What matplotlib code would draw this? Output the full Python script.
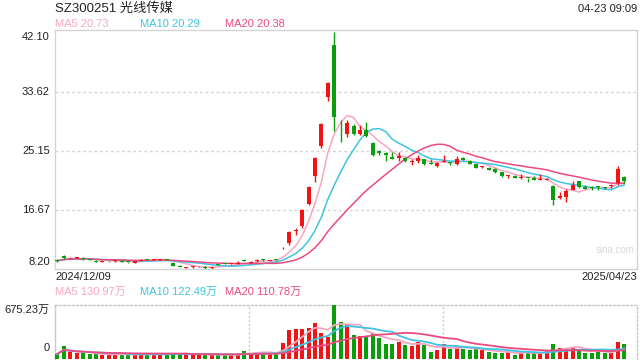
import numpy as np
import pandas as pd
import matplotlib
matplotlib.use("Agg")
import matplotlib.pyplot as plt
import matplotlib.transforms as mtransforms

plt.rcParams['font.family'] = ['Liberation Sans', 'Noto Sans CJK SC', 'DejaVu Sans']

title = "SZ300251 光线传媒"
stamp = "04-23 09:09"
first_date = "2024/12/09"
last_date = "2025/04/23"

opens = [9.42, 10.02, 9.72, 9.74, 9.72, 9.55, 9.40, 9.25, 9.28, 9.30,
         9.38, 9.20, 9.08, 9.40, 9.60, 9.55, 9.56, 9.58, 9.10, 8.58,
         8.35, 8.44, 8.56, 8.55, 8.32, 8.85, 8.98, 8.88, 8.94, 9.55,
         9.08, 9.34, 9.52, 9.40, 9.50, 11.30, 11.90, 13.68, 14.30, 17.55,
         21.45, 25.75, 32.80, 40.30, 28.30, 27.55, 28.70, 27.50, 28.10, 26.30,
         25.10, 24.75, 24.30, 24.05, 24.15, 23.55, 23.60, 23.95, 23.42, 22.95,
         23.58, 23.45, 23.25, 24.15, 23.68, 23.30, 22.80, 22.72, 22.50, 22.10,
         21.48, 21.55, 21.25, 21.28, 21.27, 20.95, 21.00, 20.10, 18.35, 18.55,
         19.50, 20.80, 19.90, 19.90, 19.95, 19.85, 20.05, 20.50, 21.35]
highs = [9.65, 10.22, 9.95, 9.85, 9.96, 9.62, 9.45, 9.38, 9.40, 9.42,
         9.42, 9.25, 9.32, 9.62, 9.68, 9.66, 9.70, 9.62, 9.20, 8.72,
         8.45, 8.56, 8.70, 8.60, 8.45, 8.90, 9.02, 8.98, 9.30, 9.62,
         9.28, 9.62, 9.58, 9.50, 9.56, 11.35, 13.60, 14.03, 16.75, 20.10,
         24.25, 29.10, 35.05, 42.10, 29.54, 29.54, 28.90, 28.80, 29.30, 26.40,
         25.25, 25.00, 24.95, 24.90, 24.20, 23.90, 24.50, 24.00, 23.95, 23.55,
         24.50, 23.50, 24.35, 24.30, 23.75, 23.35, 22.95, 22.80, 22.60, 22.15,
         21.65, 21.60, 21.75, 21.30, 21.50, 21.85, 21.30, 20.25, 19.20, 19.65,
         20.85, 20.85, 20.20, 20.10, 20.15, 19.90, 20.40, 22.95, 21.55]
lows = [9.22, 9.62, 9.62, 9.66, 9.49, 9.44, 9.22, 9.20, 9.22, 9.26,
        9.14, 9.10, 9.04, 9.36, 9.50, 9.50, 9.52, 9.42, 8.65, 8.45,
        8.28, 8.40, 8.48, 8.26, 8.20, 8.72, 8.85, 8.84, 8.90, 9.28,
        9.04, 9.18, 9.40, 9.36, 9.40, 11.05, 11.65, 13.07, 14.10, 17.35,
        20.70, 25.50, 32.25, 27.96, 26.43, 27.15, 27.35, 27.40, 27.15, 24.40,
        24.55, 23.60, 23.90, 23.70, 23.50, 23.05, 23.45, 23.15, 23.20, 22.75,
        23.50, 23.10, 23.10, 23.75, 23.20, 22.60, 22.70, 22.35, 21.95, 21.35,
        21.30, 21.20, 21.10, 20.60, 20.90, 20.90, 20.92, 17.40, 18.20, 17.85,
        19.45, 19.85, 19.60, 19.50, 19.50, 19.60, 19.85, 20.25, 20.55]
closes = [9.38, 9.72, 9.78, 9.78, 9.66, 9.49, 9.25, 9.32, 9.34, 9.36,
          9.18, 9.16, 9.28, 9.48, 9.56, 9.60, 9.62, 9.48, 8.68, 8.52,
          8.40, 8.50, 8.60, 8.30, 8.38, 8.80, 8.88, 8.94, 9.02, 9.32,
          9.24, 9.48, 9.45, 9.44, 9.46, 11.35, 13.45, 13.76, 16.60, 19.95,
          24.05, 28.90, 34.85, 29.90, 28.20, 29.05, 27.55, 28.05, 27.30, 24.55,
          24.78, 24.50, 23.95, 24.38, 23.60, 23.60, 24.05, 23.25, 23.30, 23.45,
          23.62, 23.35, 23.95, 23.82, 23.30, 22.68, 22.88, 22.45, 22.06, 21.45,
          21.55, 21.28, 21.32, 21.22, 20.95, 21.05, 21.08, 18.10, 18.60, 19.35,
          20.20, 19.90, 19.68, 19.80, 19.90, 19.80, 20.15, 22.50, 20.80]
volumes = [62, 166, 85, 71, 71, 62, 62, 53, 53, 62,
           62, 53, 53, 62, 62, 62, 62, 62, 71, 62,
           62, 53, 62, 53, 53, 53, 53, 53, 62, 105,
           71, 90, 90, 62, 62, 204, 361, 374, 374, 393,
           445, 331, 275, 675.23, 464, 426, 303, 284, 275, 327,
           261, 190, 190, 218, 175, 161, 209, 175, 90, 109,
           190, 128, 166, 123, 109, 123, 109, 90, 76, 76,
           90, 53, 90, 80, 70, 75, 105, 185, 140, 138,
           155, 130, 81, 81, 90, 76, 81, 215, 190]

price_ticks = [42.10, 33.62, 25.15, 16.67, 8.20]
ma_windows = [5, 10, 20]
ma_colors = ["#f7a6c2", "#3ec3e3", "#ea4a80"]
ma_price_labels = ["MA5 20.73", "MA10 20.29", "MA20 20.38"]
ma_vol_labels = ["MA5 130.97万", "MA10 122.49万", "MA20 110.78万"]

UP = "#f01414"
DOWN = "#0a9e0a"
GRID = "#d4d4d4"
TXT = "#222222"

W, H = 640, 360


def px_rect(left, top, right, bottom):
    return [left / W, 1 - bottom / H, (right - left) / W, (bottom - top) / H]


def fig_text(fig, x, y, s, **kw):
    fig.text(x / W, 1 - y / H, s, va="center", **kw)


fig = plt.figure(figsize=(6.4, 3.6), dpi=100)
ax = fig.add_axes(px_rect(55, 30, 637, 269))
vax = fig.add_axes(px_rect(55, 305, 637, 359))

n = len(closes)
x = np.arange(n)
o = np.array(opens)
c = np.array(closes)
colors = [UP if c[i] >= o[i] else DOWN for i in range(n)]

# candles
ax.vlines(x, lows, highs, colors=colors, lw=1.0, zorder=3)
body = np.maximum(np.abs(c - o), 0.12)
ax.bar(x, body, bottom=np.minimum(o, c), width=0.62, color=colors, zorder=4, linewidth=0)

s = pd.Series(closes)
v = pd.Series(volumes)
for w, col in zip(ma_windows, ma_colors):
    ax.plot(x, s.rolling(w, min_periods=1).mean(), color=col, lw=1.1, zorder=2)
    vax.plot(x, v.rolling(w, min_periods=1).mean(), color=col, lw=1.3, zorder=4)

xlim = (-0.36, 90.0)
ax.set_xlim(*xlim)
ax.set_ylim(8.20, 42.43)
for t in price_ticks[1:-1]:
    ax.axhline(t, color=GRID, lw=1.0, ls=(0, (2, 2)), zorder=1)
for sp in ax.spines.values():
    sp.set_color(GRID)
    sp.set_linewidth(1.0)
ax.set_xticks([])
ax.set_yticks([])

trans = mtransforms.blended_transform_factory(ax.transAxes, ax.transData)
ax.text(-0.009, price_ticks[0], "%.2f" % price_ticks[0], transform=trans, ha="right", va="top", fontsize=8, color=TXT)
for t in price_ticks[1:-1]:
    ax.text(-0.009, t, "%.2f" % t, transform=trans, ha="right", va="center", fontsize=8, color=TXT)
ax.text(-0.009, price_ticks[-1] + 0.3, "%.2f" % price_ticks[-1], transform=trans, ha="right", va="bottom", fontsize=8, color=TXT)
ax.text(0.995, 0.06, "sina.com", transform=ax.transAxes, ha="right", va="bottom", fontsize=7, color="#d8d8d8")

# volume
vmax = max(volumes)
vax.bar(x, volumes, width=0.62, color=colors, linewidth=0, zorder=3)
vax.set_xlim(*xlim)
vax.set_ylim(0, vmax)
for f in (1 / 3, 2 / 3):
    vax.axvline(xlim[0] + f * (xlim[1] - xlim[0]), color="#c8c8c8", lw=1.0, ls=(0, (1.5, 1.5)), zorder=1)
vax.spines["top"].set_linestyle((0, (1.5, 1.5)))
vax.spines["right"].set_linestyle((0, (1.5, 1.5)))
vax.spines["bottom"].set_visible(False)
for sp in vax.spines.values():
    sp.set_color("#c8c8c8")
    sp.set_linewidth(1.0)
vax.set_xticks([])
vax.set_yticks([])
vtrans = mtransforms.blended_transform_factory(vax.transAxes, vax.transData)
vax.text(-0.009, vmax, "%.2f万" % vmax, transform=vtrans, ha="right", va="top", fontsize=8, color=TXT)
vax.text(-0.009, vmax * 0.12, "0", transform=vtrans, ha="right", va="bottom", fontsize=8, color=TXT)

# header texts
fig_text(fig, 55, 9, title, fontsize=9.5, color=TXT)
fig_text(fig, 637, 9, stamp, fontsize=8, color=TXT, ha="right")
for xp, lab, col in zip([55, 140, 225], ma_price_labels, ma_colors):
    fig_text(fig, xp, 24, lab, fontsize=8, color=col)
fig_text(fig, 55, 277, first_date, fontsize=8, color=TXT)
fig_text(fig, 637, 277, last_date, fontsize=8, color=TXT, ha="right")
for xp, lab, col in zip([55, 140, 225], ma_vol_labels, ma_colors):
    fig_text(fig, xp, 292, lab, fontsize=8, color=col)

fig.savefig("out.png", dpi=100)
